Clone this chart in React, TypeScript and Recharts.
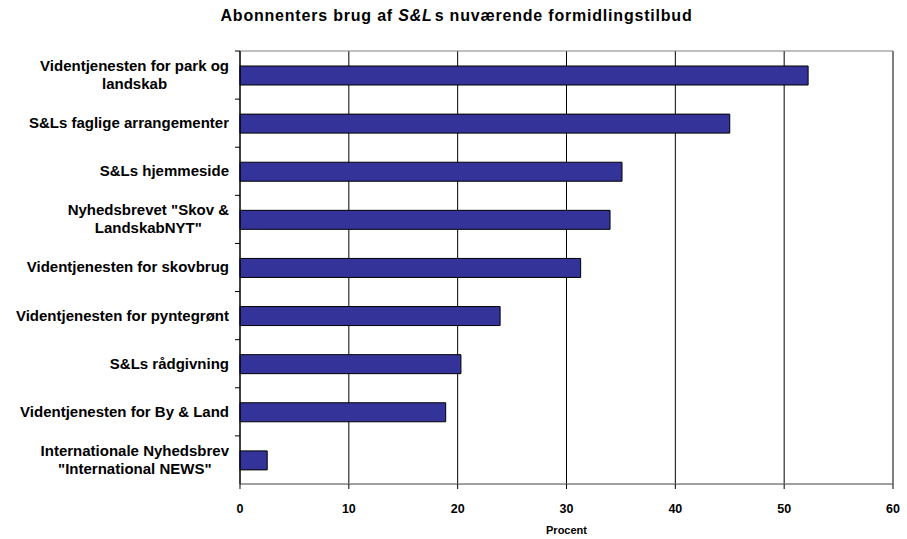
import { BarChart, Bar, XAxis, YAxis, CartesianGrid, ReferenceArea } from "recharts";

const categories = [
  "Videntjenesten for park og\nlandskab",
  "S&Ls faglige arrangementer",
  "S&Ls hjemmeside",
  'Nyhedsbrevet "Skov &\nLandskabNYT"',
  "Videntjenesten for skovbrug",
  "Videntjenesten for pyntegrønt",
  "S&Ls rådgivning",
  "Videntjenesten for By & Land",
  'Internationale Nyhedsbrev\n"International NEWS"',
];

const procent = [52.2, 45.0, 35.1, 34.0, 31.3, 23.9, 20.3, 18.9, 2.5];

const xTicks = [0, 10, 20, 30, 40, 50, 60];

const data = categories.map((name, i) => ({ name, value: procent[i] }));

const W = 907;
const H = 539;
const TOP = 51;
const BOTTOM_AXIS = 55;
const LEFT_AXIS = 240;
const band = (H - TOP - BOTTOM_AXIS) / categories.length;

function CategoryTick(props: any) {
  const { y, payload } = props;
  return (
    <g>
      <line x1={LEFT_AXIS - 5} x2={LEFT_AXIS} y1={y - band / 2} y2={y - band / 2} stroke="#000" />
      <foreignObject x={0} y={y - band / 2} width={229} height={band}>
        <div
          style={{
            display: "flex",
            alignItems: "center",
            justifyContent: "flex-end",
            height: "100%",
          }}
        >
          <div
            style={{
              textAlign: "center",
              whiteSpace: "pre-line",
              fontSize: 15,
              fontWeight: "bold",
              lineHeight: "18px",
              color: "#000",
            }}
          >
            {payload.value}
          </div>
        </div>
      </foreignObject>
    </g>
  );
}

export default function App() {
  return (
    <div
      style={{
        position: "absolute",
        left: 0,
        top: 0,
        width: W,
        height: H,
        background: "#fff",
        fontFamily: "'Liberation Sans', Arial, sans-serif",
      }}
    >
      <div
        style={{
          position: "absolute",
          top: 7,
          left: 0,
          width: 913,
          textAlign: "center",
          fontSize: 16,
          letterSpacing: 0.8,
          fontWeight: "bold",
        }}
      >
        Abonnenters brug af <i style={{ marginRight: 2 }}>S&amp;L</i>s nuværende formidlingstilbud
      </div>
      <BarChart
        width={W}
        height={H}
        data={data}
        layout="vertical"
        margin={{ top: TOP, right: 14, bottom: 0, left: 0 }}
        barCategoryGap={0}
      >
        <CartesianGrid horizontal={false} stroke="#000" />
        <ReferenceArea x1={0} x2={60} fill="none" stroke="#808080" strokeOpacity={1} fillOpacity={0} />
        <XAxis
          type="number"
          domain={[0, 60]}
          ticks={xTicks}
          height={BOTTOM_AXIS}
          tickSize={5}
          tickMargin={15}
          axisLine={{ stroke: "#808080" }}
          tickLine={{ stroke: "#000" }}
          tick={{ fontSize: 12.5, fontWeight: "bold", fill: "#000" }}
          label={{
            value: "Procent",
            position: "insideBottom",
            offset: 5,
            style: { fontSize: 11, fontWeight: "bold", fill: "#000" },
          }}
        />
        <YAxis
          type="category"
          dataKey="name"
          width={LEFT_AXIS}
          axisLine={{ stroke: "#000" }}
          tickLine={false}
          tick={<CategoryTick />}
          interval={0}
        />
        <Bar dataKey="value" fill="#333399" stroke="#000" strokeWidth={1} barSize={19} isAnimationActive={false} />
      </BarChart>
    </div>
  );
}
